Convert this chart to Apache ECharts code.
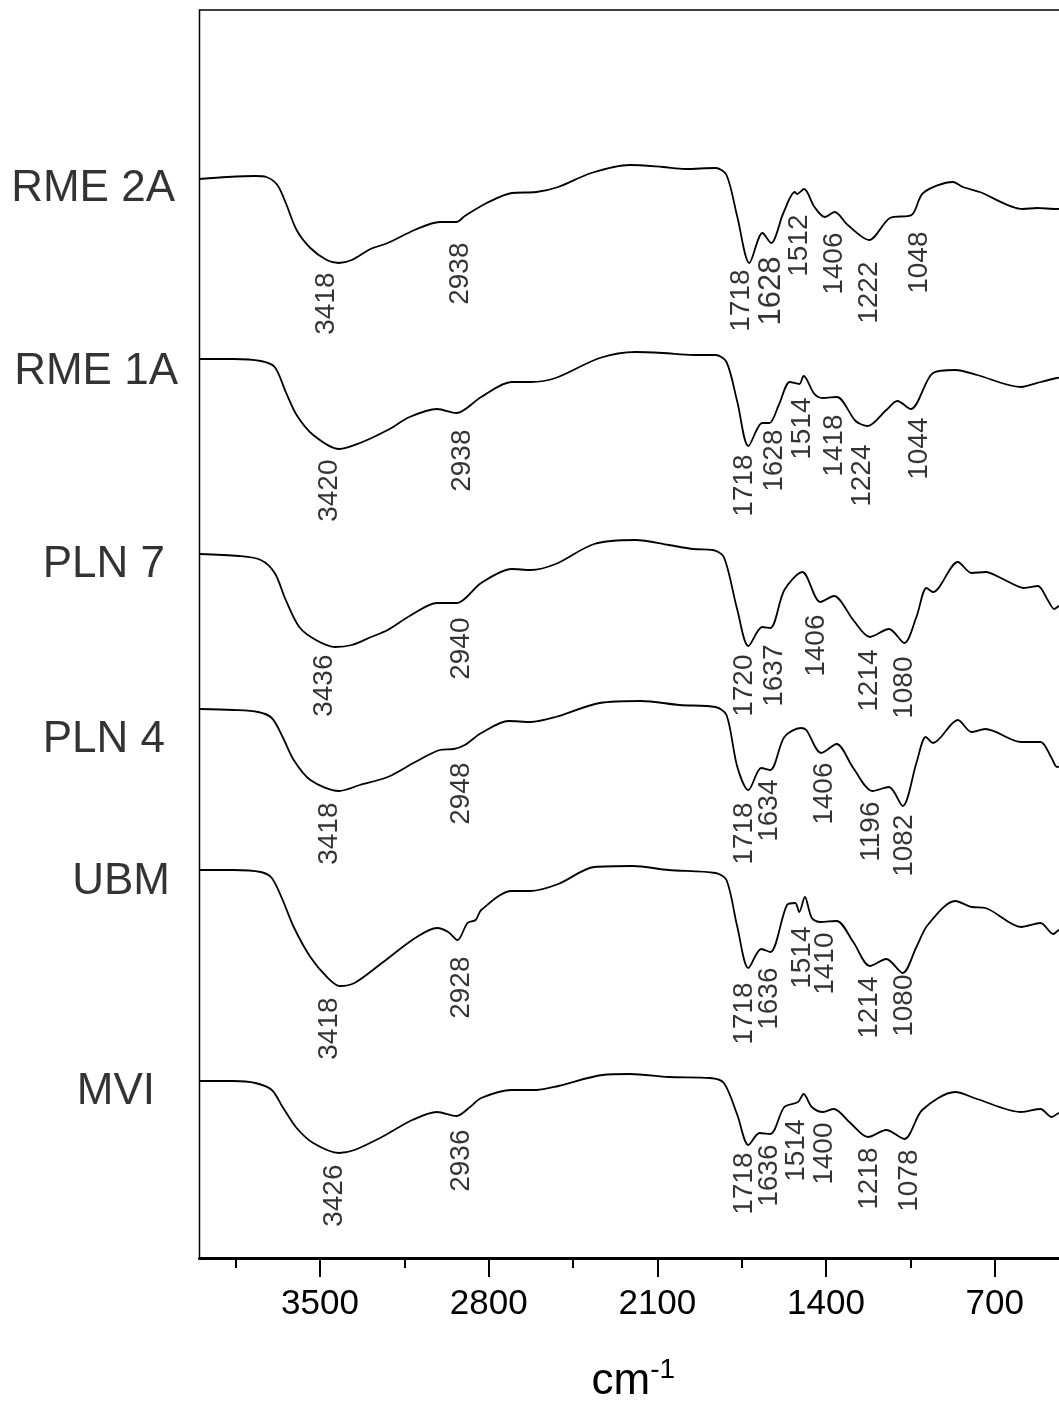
<!DOCTYPE html>
<html>
<head>
<meta charset="utf-8">
<script src="https://cdn.jsdelivr.net/npm/echarts@6/dist/echarts.min.js"></script>
<style>
  html, body { margin: 0; padding: 0; background: #fff; }
  #myChart { width: 1059px; height: 1403px; }
</style>
</head>
<body>
<div id="myChart"></div>
<script>
// wavenumber (cm-1) / offset transmittance (arbitrary units)
var rme2a = [[4000,107.9],[3883,108.1],[3768,108.2],[3723,108.1],[3677,107.3],[3642,105.5],[3597,102.8],[3540,101.0],[3472,99.8],[3422,99.5],[3368,99.8],[3290,100.9],[3219,101.5],[3107,102.8],[3003,103.6],[2934,103.6],[2899,104.2],[2808,105.5],[2704,106.5],[2602,106.6],[2511,107.1],[2374,108.5],[2215,109.3],[2078,109.1],[1986,108.9],[1859,109.0],[1813,108.3],[1768,104.1],[1718,99.5],[1664,102.5],[1628,101.5],[1577,104.5],[1530,106.6],[1520,106.4],[1491,106.9],[1448,105.1],[1405,104.1],[1364,104.6],[1310,103.3],[1221,101.8],[1135,104.0],[1045,104.3],[997,106.5],[873,107.6],[832,107.1],[762,106.6],[583,104.9],[525,105.0],[442,104.9],[400,105.0]]
var rme1a = [[4000,89.9],[3860,89.9],[3746,89.7],[3688,89.1],[3642,86.6],[3597,84.3],[3528,82.3],[3421,80.9],[3334,81.5],[3219,82.8],[3128,84.1],[3014,84.9],[2934,84.5],[2831,86.1],[2705,87.6],[2626,87.6],[2522,88.0],[2339,90.0],[2190,90.6],[2077,90.5],[1951,90.3],[1859,90.3],[1813,89.6],[1768,85.6],[1722,81.2],[1665,83.5],[1635,83.5],[1596,85.3],[1550,87.6],[1511,87.4],[1493,88.2],[1448,86.4],[1413,86.0],[1355,86.1],[1277,83.7],[1227,83.2],[1150,84.8],[1104,85.7],[1048,84.9],[956,88.5],[864,88.8],[773,88.3],[592,87.1],[510,87.6],[442,88.0],[400,88.2]]
var pln7 = [[4000,70.4],[3837,70.2],[3746,69.8],[3688,68.5],[3642,65.8],[3586,63.1],[3517,61.8],[3437,61.1],[3368,61.3],[3288,62.1],[3219,62.8],[3128,64.2],[3014,65.5],[2934,65.5],[2831,67.5],[2705,68.9],[2626,68.8],[2522,69.4],[2362,71.4],[2190,71.8],[2053,71.3],[1951,70.9],[1870,70.8],[1824,70.1],[1768,64.8],[1722,61.2],[1665,63.1],[1631,63.0],[1573,66.8],[1498,68.6],[1424,65.6],[1367,66.2],[1287,63.8],[1218,62.1],[1139,62.9],[1075,61.5],[1025,64.1],[983,67.0],[956,66.6],[853,69.6],[796,68.5],[739,68.6],[658,67.8],[579,67.0],[521,67.2],[480,65.8],[453,64.9],[434,65.2],[400,65.5]]
var pln4 = [[4000,54.9],[3860,54.8],[3757,54.6],[3700,54.0],[3655,52.1],[3609,49.8],[3540,47.8],[3421,46.7],[3334,47.3],[3219,48.1],[3105,49.6],[3002,50.8],[2945,50.9],[2899,51.3],[2831,52.5],[2717,53.7],[2626,53.6],[2522,54.1],[2339,55.5],[2168,55.7],[2007,55.3],[1859,55.1],[1813,54.3],[1768,49.1],[1722,46.8],[1669,49.0],[1631,48.8],[1573,52.1],[1505,53.0],[1482,52.8],[1420,50.5],[1356,51.4],[1287,49.0],[1207,46.7],[1139,47.1],[1082,45.2],[1025,49.5],[986,52.1],[956,51.5],[853,53.8],[796,52.6],[739,52.9],[590,51.6],[510,51.6],[464,50.0],[441,49.1],[400,49.5]]
var ubm = [[4000,38.8],[3860,38.8],[3746,38.6],[3700,38.0],[3655,35.8],[3609,33.1],[3540,30.1],[3471,28.1],[3418,27.2],[3357,27.5],[3243,29.5],[3105,32.0],[3014,33.0],[2968,32.6],[2929,31.8],[2888,33.5],[2854,33.8],[2831,34.8],[2705,36.7],[2626,36.7],[2511,37.4],[2362,39.1],[2202,39.2],[2053,38.8],[1859,38.5],[1813,37.8],[1768,33.1],[1722,29.0],[1669,30.9],[1631,30.6],[1562,35.3],[1528,35.5],[1511,34.6],[1488,36.1],[1459,34.0],[1424,33.6],[1356,33.7],[1287,31.6],[1218,29.2],[1150,29.9],[1082,28.5],[1025,31.1],[978,33.3],[864,35.7],[796,35.1],[739,35.0],[590,33.1],[510,33.5],[457,32.4],[434,32.8],[400,33.0]]
var mvi = [[4000,17.7],[3860,17.7],[3768,17.5],[3700,16.8],[3655,15.1],[3597,13.0],[3528,11.5],[3421,10.5],[3357,10.8],[3243,12.1],[3117,13.8],[3014,14.6],[2934,14.2],[2877,15.1],[2831,16.0],[2705,16.8],[2602,16.8],[2511,17.2],[2328,18.3],[2213,18.4],[2053,18.1],[1882,18.0],[1824,17.5],[1768,14.3],[1722,11.3],[1676,12.5],[1631,12.4],[1573,15.1],[1516,15.6],[1493,16.4],[1459,15.1],[1413,14.6],[1368,14.9],[1299,13.5],[1226,12.1],[1150,12.8],[1075,11.9],[1001,14.8],[864,16.6],[773,15.9],[590,14.6],[510,14.9],[464,14.1],[434,14.5],[400,14.7]]

var sampleNames = ['RME 2A', 'RME 1A', 'PLN 7', 'PLN 4', 'UBM', 'MVI']
var spectra = [rme2a, rme1a, pln7, pln4, ubm, mvi]
var nameLevels = [106.9, 88.6, 69.3, 51.8, 37.6, 16.6] // y of the sample names
var nameGaps = [24, 21, 34, 34, 29, 44]

// peak labels: text, and where the top of the rotated label sits [cm-1, y]
var peaks2a = ['3418', '2938', '1718', '1628', '1512', '1406', '1222', '1048']
var at2a = [[3470,98.5],[2916,101.5],[1750,98.8],[1625,100.1],[1509,104.3],[1364,102.5],[1218,99.6],[1011,102.6]]
var peaks1a = ['3420', '2938', '1718', '1628', '1514', '1418', '1224', '1044']
var at1a = [[3460,79.8],[2908,82.8],[1737,80.3],[1613,82.8],[1497,86.0],[1364,84.3],[1248,81.3],[1011,84.0]]
var peaksP7 = ['3436', '2940', '1720', '1637', '1406', '1214', '1080']
var atP7 = [[3480,60.3],[2912,64.0],[1737,60.3],[1613,61.3],[1440,64.3],[1218,60.8],[1073,60.1]]
var peaksP4 = ['3418', '2948', '1718', '1634', '1406', '1196', '1082']
var atP4 = [[3460,45.5],[2912,49.5],[1737,45.5],[1634,47.8],[1405,49.5],[1210,45.6],[1073,44.3]]
var peaksUbm = ['3418', '2928', '1718', '1636', '1514', '1410', '1214', '1080']
var atUbm = [[3460,26.0],[2912,30.1],[1737,27.5],[1634,29.0],[1497,33.1],[1400,32.5],[1218,28.1],[1073,28.3]]
var peaksMvi = ['3426', '2936', '1718', '1636', '1514', '1400', '1218', '1078']
var atMvi = [[3439,9.3],[2912,12.8],[1737,10.5],[1634,11.3],[1521,13.8],[1405,13.5],[1218,11.0],[1052,10.8]]

var majorTicks = [3500, 2800, 2100, 1400, 700]
var minorTicks = [3850, 3150, 2450, 1750, 1050]

var FONT = 'Liberation Sans, Arial, sans-serif'

var myChart = echarts.init(document.getElementById('myChart'))

var series = []
for (var i = 0; i < spectra.length; i++) {
  series.push({
    name: sampleNames[i],
    type: 'line',
    xAxisIndex: 0,
    data: spectra[i],
    showSymbol: false,
    smooth: 0.3,
    lineStyle: { color: '#000', width: 1.8 },
    silent: true
  })
}

// sample names at the left edge
var nameData = []
for (var i = 0; i < sampleNames.length; i++) {
  nameData.push({
    name: sampleNames[i],
    value: [4000, nameLevels[i]],
    label: { distance: nameGaps[i] }
  })
}
series.push({
  type: 'scatter',
  data: nameData,
  symbolSize: 1,
  itemStyle: { color: 'rgba(0,0,0,0)' },
  clip: false,
  silent: true,
  label: {
    show: true,
    position: 'left',
    formatter: '{b}',
    color: '#000',
    fontSize: 44,
    fontFamily: FONT
  }
})

// rotated peak labels
var peakSets = [[peaks2a, at2a], [peaks1a, at1a], [peaksP7, atP7], [peaksP4, atP4], [peaksUbm, atUbm], [peaksMvi, atMvi]]
var peakData = []
peakSets.forEach(function (set, k) {
  set[0].forEach(function (txt, j) {
    var item = { name: txt, value: set[1][j] }
    if (k === 0 && txt === '1628') item.label = { fontSize: 31 }
    peakData.push(item)
  })
})
series.push({
  type: 'scatter',
  data: peakData,
  symbolSize: 1,
  itemStyle: { color: 'rgba(0,0,0,0)' },
  clip: false,
  silent: true,
  label: {
    show: true,
    position: [0, 0],
    rotate: 90,
    align: 'right',
    verticalAlign: 'middle',
    formatter: '{b}',
    color: '#000',
    fontSize: 28,
    fontFamily: FONT
  }
})

var option = {
  backgroundColor: '#fff',
  animation: false,
  grid: {
    left: 199.5,
    right: -8,
    top: 10,
    bottom: 145,
    outerBoundsMode: 'none',
    containLabel: false,
    show: true,
    borderColor: '#000',
    borderWidth: 1.5
  },
  xAxis: [{
    type: 'value',
    min: 400,
    max: 4000,
    inverse: true,
    position: 'bottom',
    name: '{a|cm}{b|-1}',
    nameLocation: 'middle',
    nameGap: 98,
    nameTextStyle: {
      rich: {
        a: { fontSize: 44, fontFamily: FONT, color: '#000' },
        b: { fontSize: 28, fontFamily: FONT, color: '#000', verticalAlign: 'top', padding: [0, 0, 24, 0] }
      }
    },
    axisLine: { lineStyle: { color: '#000', width: 3 } },
    axisTick: { customValues: majorTicks, length: 19, lineStyle: { color: '#000', width: 2 } },
    axisLabel: {
      customValues: majorTicks,
      margin: 29,
      fontSize: 35,
      color: '#000',
      fontFamily: FONT,
      formatter: function (v) { return String(v) }
    },
    splitLine: { show: false }
  }, {
    type: 'value',
    min: 400,
    max: 4000,
    inverse: true,
    position: 'bottom',
    axisLine: { show: false },
    axisTick: { customValues: minorTicks, length: 10, lineStyle: { color: '#000', width: 2 } },
    axisLabel: { show: false },
    splitLine: { show: false }
  }],
  yAxis: {
    type: 'value',
    min: 0,
    max: 124.8,
    show: false
  },
  series: series
}
myChart.setOption(option)
</script>
</body>
</html>
